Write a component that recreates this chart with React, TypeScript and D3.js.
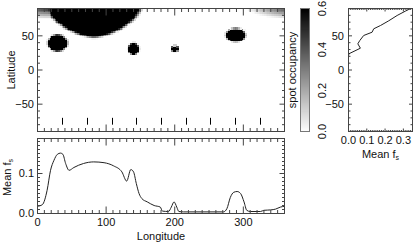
import React, { useMemo } from "react";
import * as d3 from "d3";

// spots on the map, in degrees
const spotLon = [82, 20, 29, 140, 200, 289];
const spotLat = [90, 90, 40, 31.5, 31.5, 51.5];
const spotLonRadius = [64, 75, 14, 7.5, 4.5, 14];
const spotLatRadius = [39.5, 14, 11.5, 8.5, 4, 9.5];
const spotPeak = [1, 0.5, 1, 1, 1, 1];
const spotPower = [1.55, 2, 2, 2, 2, 2];
const spotEdgeIn = [0.95, 0, 0.85, 0.85, 0.8, 0.85];
const spotEdgeOut = [1.1, 1, 1.1, 1.1, 1.15, 1.1];

// observation phases (the short bars inside the map)
const phaseLon = [36, 72, 108, 144, 180, 216, 252, 288, 324];

// mean occupancy against longitude (lower panel)
const lonSamples = [0, 7, 14, 19, 24, 29, 33.5, 37, 41, 46, 53, 67, 82, 97, 111, 123, 130, 136, 140, 144, 148, 152, 160, 170, 179, 182, 191, 195, 199, 203, 206, 213, 271, 276, 281, 286, 291, 296, 301, 305, 310, 325, 330, 340, 347, 354, 360];
const fsByLon = [0.018, 0.022, 0.058, 0.108, 0.133, 0.148, 0.151, 0.148, 0.125, 0.108, 0.115, 0.125, 0.129, 0.127, 0.119, 0.104, 0.081, 0.11, 0.104, 0.075, 0.05, 0.0375, 0.029, 0.02, 0.016, 0.006, 0.005, 0.016, 0.029, 0.016, 0.005, 0.004, 0.004, 0.012, 0.04, 0.053, 0.055, 0.05, 0.029, 0.008, 0.005, 0.005, 0.008, 0.009, 0.011, 0.016, 0.018];

// mean occupancy against latitude (right panel)
const latSamples = [-90, 20, 23.7, 31.9, 38.3, 43.2, 50.5, 55.3, 60.3, 65.1, 72, 79.8, 86, 90];
const fsByLat = [0, 0, 0.002, 0.065, 0.051, 0.062, 0.083, 0.129, 0.138, 0.175, 0.22, 0.266, 0.31, 0.34];

const latTickLabels = [-50, 0, 50];
const lonTickLabels = [0, 100, 200, 300];
const lowerTickLabels = [0, 0.1];
const sideTickLabels = [0, 0.1, 0.2, 0.3];
const barTickLabels = [0, 0.2, 0.4, 0.6];

const ink = "#222";
const frameInk = "#444";
const font = "'Liberation Sans', Arial, Helvetica, sans-serif";

function occupancy(lon: number, lat: number) {
  let v = 0;
  spotLon.forEach((l0, i) => {
    const dl = ((lon - l0 + 540) % 360) - 180;
    const dp = lat - spotLat[i];
    const p = spotPower[i];
    const rho = Math.pow(
      Math.pow(Math.abs(dl / spotLonRadius[i]), p) + Math.pow(Math.abs(dp / spotLatRadius[i]), p),
      1 / p
    );
    const t = Math.max(0, Math.min(1, (spotEdgeOut[i] - rho) / (spotEdgeOut[i] - spotEdgeIn[i])));
    v = Math.max(v, spotPeak[i] * t);
  });
  return v;
}

interface Ticks {
  values: number[];
  major: (v: number) => boolean;
  majorLen: number;
  minorLen: number;
}

// IDL style box: ticks on all four sides, pointing inwards
function Frame({ x, y, xt, yt }: { x: any; y: any; xt: Ticks; yt: Ticks }) {
  const [x0, x1] = x.range();
  const [y0, y1] = y.range();
  return (
    <g stroke={frameInk} strokeWidth={1} fill="none">
      <rect x={x0} y={y1} width={x1 - x0} height={y0 - y1} />
      {xt.values.map((v) => {
        const L = xt.major(v) ? xt.majorLen : xt.minorLen;
        const px = x(v);
        return (
          <g key={"x" + v}>
            <line x1={px} x2={px} y1={y0} y2={y0 - L} />
            <line x1={px} x2={px} y1={y1} y2={y1 + L} />
          </g>
        );
      })}
      {yt.values.map((v) => {
        const L = yt.major(v) ? yt.majorLen : yt.minorLen;
        const py = y(v);
        return (
          <g key={"y" + v}>
            <line x1={x0} x2={x0 + L} y1={py} y2={py} />
            <line x1={x1} x2={x1 - L} y1={py} y2={py} />
          </g>
        );
      })}
    </g>
  );
}

const App: React.FC = () => {
  const xLon = d3.scaleLinear().domain([0, 360]).range([37.5, 284.5]);
  const yLat = d3.scaleLinear().domain([-90, 90]).range([131.5, 8.5]);
  const yLower = d3.scaleLinear().domain([0, 0.1875]).range([213.5, 138.5]);
  const xSide = d3.scaleLinear().domain([0, 0.35]).range([348.5, 412.5]);
  const yBar = d3.scaleLinear().domain([0, 0.6]).range([131.5, 8.5]);
  const barX = [300.5, 309.5];
  const grey = d3.scaleLinear<string>().domain([0, 0.6]).range(["#ffffff", "#000000"]).clamp(true);

  // 2.5 degree occupancy grid, each cell averaged over 4x4 samples
  const step = 2.5;
  const cells = useMemo(() => {
    const out: { lon: number; lat: number; v: number }[] = [];
    const n = 4;
    for (let lon = 0; lon < 360; lon += step) {
      for (let lat = -90; lat < 90; lat += step) {
        let s = 0;
        for (let i = 0; i < n; i++)
          for (let j = 0; j < n; j++)
            s += occupancy(lon + ((i + 0.5) * step) / n, lat + ((j + 0.5) * step) / n);
        const v = s / (n * n);
        if (v > 0.003) out.push({ lon, lat, v });
      }
    }
    return out;
  }, []);

  const lowerLine = d3
    .line<number>()
    .x((_, i) => xLon(lonSamples[i]))
    .y((d) => yLower(d))
    .curve(d3.curveMonotoneX)(fsByLon);

  const sideLine = d3
    .line<number>()
    .x((d) => xSide(d))
    .y((_, i) => yLat(latSamples[i]))(fsByLat);

  const lonTicks: Ticks = { values: d3.range(0, 361, 10), major: (v) => v % 100 === 0, majorLen: 7, minorLen: 3.5 };
  const latTicks: Ticks = { values: d3.range(-90, 91, 10), major: (v) => v % 50 === 0, majorLen: 5, minorLen: 2.5 };
  const lowerYTicks: Ticks = {
    values: d3.range(0, 0.1875, 0.01),
    major: (v) => Math.abs(v - Math.round(v * 10) / 10) < 1e-6,
    majorLen: 5,
    minorLen: 2.5,
  };
  const sideXTicks: Ticks = {
    values: d3.range(0, 0.351, 0.01),
    major: (v) => Math.abs(v - Math.round(v * 10) / 10) < 1e-6,
    majorLen: 3,
    minorLen: 1.5,
  };
  const sideYTicks: Ticks = { values: d3.range(-90, 91, 10), major: (v) => v % 50 === 0, majorLen: 3.5, minorLen: 2 };

  const barSteps = d3.range(0, 0.6, 0.005);
  const fmt = (v: number) => (v < 0 ? "\u2212" + Math.abs(v) : String(v));

  return (
    <svg width={414} height={243} style={{ display: "block", position: "absolute", left: 0, top: 0 }} fontFamily={font} fontSize={11} fill="#111">
      <rect width={414} height={243} fill="#fff" />

      {/* occupancy map */}
      <g shapeRendering="crispEdges">
        {cells.map((c) => (
          <rect
            key={c.lon + "_" + c.lat}
            x={xLon(c.lon)}
            y={yLat(c.lat + step)}
            width={xLon(c.lon + step) - xLon(c.lon) + 0.5}
            height={yLat(c.lat) - yLat(c.lat + step) + 0.5}
            fill={grey(c.v)}
          />
        ))}
      </g>
      <g stroke="#000" strokeWidth={1}>
        {phaseLon.map((l) => (
          <line key={l} x1={Math.round(xLon(l)) + 0.5} x2={Math.round(xLon(l)) + 0.5} y1={yLat(-70)} y2={yLat(-80)} />
        ))}
      </g>
      <Frame x={xLon} y={yLat} xt={lonTicks} yt={latTicks} />
      {latTickLabels.map((v) => (
        <text key={v} x={34} y={yLat(v)} dy="0.35em" textAnchor="end">
          {fmt(v)}
        </text>
      ))}
      <text transform={`translate(15,${yLat(0)}) rotate(-90)`} textAnchor="middle">
        Latitude
      </text>

      {/* colour bar */}
      <g shapeRendering="crispEdges">
        {barSteps.map((v) => (
          <rect key={v} x={barX[0]} y={yBar(v + 0.005)} width={barX[1] - barX[0]} height={yBar(v) - yBar(v + 0.005) + 0.5} fill={grey(v + 0.0025)} />
        ))}
      </g>
      <rect x={barX[0]} y={yBar(0.6)} width={barX[1] - barX[0]} height={yBar(0) - yBar(0.6)} fill="none" stroke="#777" />
      {barTickLabels.map((v) => (
        <text key={v} transform={`translate(326,${yBar(v)}) rotate(-90)`} textAnchor="middle">
          {v.toFixed(1)}
        </text>
      ))}
      <text transform={`translate(296,${yBar(0.3)}) rotate(-90)`} textAnchor="middle">
        spot occupancy
      </text>

      {/* mean occupancy against latitude */}
      <path d={sideLine ?? ""} fill="none" stroke={ink} strokeWidth={1} />
      <Frame x={xSide} y={yLat} xt={sideXTicks} yt={sideYTicks} />
      {latTickLabels.map((v) => (
        <text key={v} x={344} y={yLat(v)} dy="0.35em" textAnchor="end">
          {fmt(v)}
        </text>
      ))}
      {sideTickLabels.map((v) => (
        <text key={v} x={xSide(v)} y={144} textAnchor="middle">
          {v.toFixed(1)}
        </text>
      ))}
      <text x={(xSide(0) + xSide(0.35)) / 2} y={158} textAnchor="middle">
        Mean f<tspan fontSize={7} dy={2}>s</tspan>
      </text>

      {/* mean occupancy against longitude */}
      <path d={lowerLine ?? ""} fill="none" stroke={ink} strokeWidth={1} />
      <Frame x={xLon} y={yLower} xt={lonTicks} yt={lowerYTicks} />
      {lowerTickLabels.map((v) => (
        <text key={v} x={34} y={yLower(v)} dy="0.35em" textAnchor="end">
          {v.toFixed(1)}
        </text>
      ))}
      {lonTickLabels.map((v) => (
        <text key={v} x={xLon(v)} y={226} textAnchor="middle">
          {v}
        </text>
      ))}
      <text x={(xLon(0) + xLon(360)) / 2} y={240} textAnchor="middle">
        Longitude
      </text>
      <text transform={`translate(11,${yLower(0.09)}) rotate(-90)`} textAnchor="middle">
        Mean f<tspan fontSize={7} dy={2}>s</tspan>
      </text>
    </svg>
  );
};

export default App;
